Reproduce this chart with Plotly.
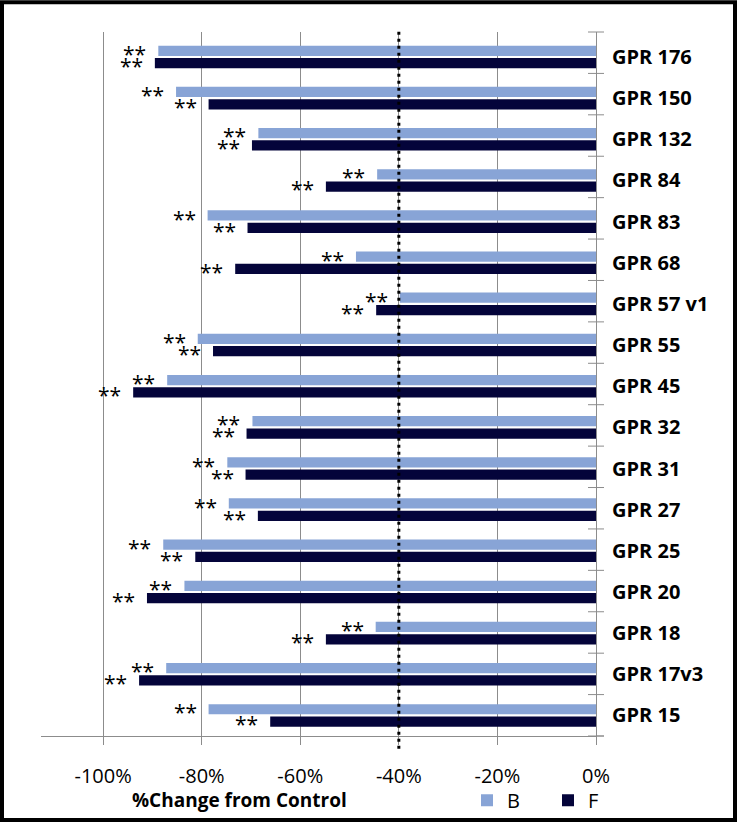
import plotly.graph_objects as go

categories = ["GPR 176", "GPR 150", "GPR 132", "GPR 84", "GPR 83", "GPR 68", "GPR 57 v1",
              "GPR 55", "GPR 45", "GPR 32", "GPR 31", "GPR 27", "GPR 25", "GPR 20",
              "GPR 18", "GPR 17v3", "GPR 15"]
b_values = [-88.8, -85.2, -68.5, -44.4, -78.8, -48.7, -39.8, -80.8, -87.0, -69.7,
            -74.8, -74.5, -87.8, -83.5, -44.7, -87.2, -78.6]
f_values = [-89.5, -78.6, -69.8, -54.8, -70.7, -73.2, -44.6, -77.7, -93.9, -70.9,
            -71.1, -68.6, -81.3, -91.1, -54.8, -92.7, -66.1]
b_sig = ["**"] * len(categories)
f_sig = ["**"] * len(categories)
tick_vals = [-100, -80, -60, -40, -20, 0]
tick_text = ["-100%", "-80%", "-60%", "-40%", "-20%", "0%"]
threshold = -40
series_names = ["B", "F"]
x_title = "%Change from Control"

W, H = 737, 832
L, R, T, B = 41, 596, 32, 744
pw, ph = R - L, B - T

def px_x(p):
    return (p - L) / pw

def px_y(p):
    return (B - p) / ph

FONT = "Open Sans"
GRAY = "#8c8c8c"

fig = go.Figure()
fig.add_trace(go.Bar(y=categories, x=b_values, name=series_names[0], orientation="h",
                     marker=dict(color="#88A4D6", line=dict(width=0))))
fig.add_trace(go.Bar(y=categories, x=f_values, name=series_names[1], orientation="h",
                     marker=dict(color="#04043A", line=dict(width=0))))

annotations = []
for c, v, s in zip(categories, b_values, b_sig):
    annotations.append(dict(x=v, y=c, xref="x", yref="y", text=s, showarrow=False,
                            xanchor="right", yanchor="middle", xshift=-10, yshift=3,
                            font=dict(family=FONT, size=21, color="black")))
for c, v, s in zip(categories, f_values, f_sig):
    annotations.append(dict(x=v, y=c, xref="x", yref="y", text=s, showarrow=False,
                            xanchor="right", yanchor="middle", xshift=-10, yshift=-9,
                            font=dict(family=FONT, size=21, color="black")))
annotations.append(dict(x=px_x(130), y=px_y(809), xref="paper", yref="paper",
                        text="<b>" + x_title + "</b>", showarrow=False,
                        xanchor="left", yanchor="middle",
                        font=dict(family=FONT, size=19, color="black")))

shapes = []
# outer frame
shapes.append(dict(type="rect", xref="paper", yref="paper",
                   x0=px_x(2), x1=px_x(735), y0=px_y(829), y1=px_y(2),
                   line=dict(color="black", width=4), layer="above"))
# category boundary ticks crossing the right axis
n = len(categories)
for k in range(n + 1):
    shapes.append(dict(type="line", xref="paper", yref="paper",
                       x0=px_x(588), x1=px_x(604), y0=k / n, y1=k / n,
                       line=dict(color=GRAY, width=1), layer="above"))
# extension of x axis line
shapes.append(dict(type="line", xref="paper", yref="paper",
                   x0=1, x1=px_x(604), y0=0, y1=0,
                   line=dict(color=GRAY, width=1), layer="above"))
# dotted threshold line
shapes.append(dict(type="line", xref="x", yref="paper",
                   x0=threshold, x1=threshold, y0=px_y(757), y1=px_y(30),
                   line=dict(color="black", width=3, dash="3px,4px"), layer="above"))

fig.update_layout(
    width=W, height=H, autosize=False,
    margin=dict(l=L, r=W - R, t=T, b=H - B, pad=0),
    paper_bgcolor="white", plot_bgcolor="white",
    barmode="group", bargap=0.4, bargroupgap=0.17,
    font=dict(family=FONT, color="black"),
    xaxis=dict(range=[-112.6, 0], tickvals=tick_vals, ticktext=tick_text,
               showgrid=True, gridcolor=GRAY, gridwidth=1, zeroline=False,
               showline=True, linecolor=GRAY, linewidth=1,
               ticks="outside", ticklen=8, tickcolor=GRAY,
               tickfont=dict(family=FONT, size=20, color="black"),
               ticklabelstandoff=14, fixedrange=True),
    yaxis=dict(categoryorder="array", categoryarray=categories, autorange="reversed",
               side="right", showline=True, linecolor=GRAY, linewidth=1,
               showgrid=False, zeroline=False, ticks="",
               tickfont=dict(family=FONT, size=20, color="black", weight="bold"),
               ticklabelstandoff=11, fixedrange=True),
    legend=dict(orientation="h", x=px_x(467), y=px_y(809), xanchor="left", yanchor="middle",
                entrywidth=36, entrywidthmode="pixels", traceorder="normal",
                font=dict(family=FONT, size=20, color="black"),
                bgcolor="rgba(0,0,0,0)", borderwidth=0),
    annotations=annotations,
    shapes=shapes,
)

fig.write_html("out.html", config={"displayModeBar": False, "staticPlot": True},
               post_script="document.body.style.margin='0';document.body.style.overflow='hidden';")
